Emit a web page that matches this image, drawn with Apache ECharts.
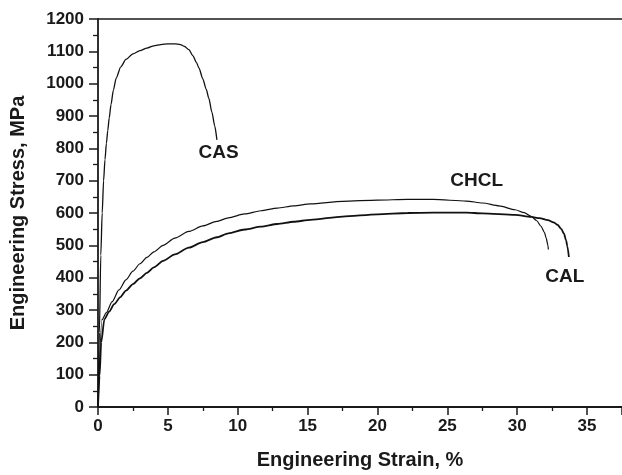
<!DOCTYPE html>
<html>
<head>
<meta charset="utf-8">
<script src="https://cdn.jsdelivr.net/npm/echarts@6/dist/echarts.min.js"></script>
<style>html,body{margin:0;padding:0;background:#fff}#c{width:622px;height:475px}</style>
</head>
<body>
<div id="c"></div>
<script>
// Strain (%) / Stress (MPa)
var casStrain = [0, 0.1, 0.2, 0.3, 0.4, 0.5, 0.6, 0.7, 0.8, 0.93, 1.1, 1.3, 1.63, 2.0, 2.5, 3.0, 3.5, 4.0, 4.5, 5.0, 5.5, 5.9, 6.2, 6.5, 6.8, 7.05, 7.23, 7.5, 7.75, 7.93, 8.15, 8.35, 8.51];
var casStress = [0, 230, 470, 600, 700, 765, 815, 855, 893, 935, 980, 1017, 1052, 1075, 1092, 1102, 1110, 1117, 1121, 1123, 1123, 1121, 1115, 1105, 1086, 1065, 1048, 1015, 982, 955, 912, 870, 826];

var chclStrain = [0, 0.28, 0.6, 1.0, 1.5, 2.0, 2.5, 3.0, 3.5, 4.0, 4.66, 5.5, 6.5, 7.5, 8.5, 9.33, 10.5, 11.66, 12.83, 14.0, 15.2, 17.5, 20.0, 22.16, 24.0, 26.36, 27.52, 28.7, 29.85, 30.5, 31.0, 31.4, 31.7, 31.95, 32.07, 32.2, 32.23];
var chclStress = [0, 270, 292, 325, 362, 393, 420, 443, 463, 480, 500, 522, 543, 560, 574, 585, 597, 607, 615, 622, 628, 636, 640, 642, 642, 637, 631, 622, 610, 601, 590, 576, 559, 540, 523, 500, 487];

var calStrain = [0, 0.11, 0.23, 0.46, 0.8, 1.16, 1.6, 2.0, 2.5, 3.0, 3.5, 4.0, 4.66, 5.5, 6.5, 7.5, 8.5, 9.33, 10.5, 11.66, 12.83, 14.0, 15.2, 17.5, 20.0, 22.16, 24.0, 26.36, 27.52, 29.85, 31.0, 31.6, 32.2, 32.6, 32.9, 33.15, 33.35, 33.5, 33.59, 33.7];
var calStress = [0, 96, 200, 272, 295, 318, 340, 360, 380, 398, 415, 432, 452, 472, 493, 510, 525, 537, 549, 558, 566, 573, 579, 589, 596, 600, 601, 601, 599, 594, 588, 584, 578, 571, 563, 551, 536, 515, 497, 464];

var xTicks = [0, 5, 10, 15, 20, 25, 30, 35];
var yTicks = [0, 100, 200, 300, 400, 500, 600, 700, 800, 900, 1000, 1100, 1200];

var labelNames = ['CAS', 'CHCL', 'CAL'];
var labelAt = [[8.63, 785], [27.1, 700], [33.4, 403]];

function pairs(xs, ys) { return xs.map(function (x, i) { return [x, ys[i]]; }); }

var FONT = '"Liberation Sans", Arial, sans-serif';
var AX = '#1a1a1a';
var TXT = '#1a1a1a';

var chart = echarts.init(document.getElementById('c'), null, { renderer: 'canvas' });

function lineSeries(name, data, w, labelIdx) {
  return {
    name: name, type: 'line', data: data, showSymbol: false,
    smooth: 0.25, smoothMonotone: 'x',
    lineStyle: { color: '#111', width: w }, animation: false,
    markPoint: {
      symbol: 'circle', symbolSize: 0,
      label: { show: true, formatter: labelNames[labelIdx], color: TXT, fontFamily: FONT, fontWeight: 'bold', fontSize: 19, position: 'inside' },
      data: [{ coord: labelAt[labelIdx] }]
    }
  };
}

chart.setOption({
  backgroundColor: '#fff',
  animation: false,
  grid: { left: 97, right: -10.7, top: 19, bottom: 67, containLabel: false },
  xAxis: [{
    type: 'value', min: xTicks[0], max: 37.5, interval: 5,
    name: 'Engineering Strain, %', nameLocation: 'middle', nameGap: 43,
    nameTextStyle: { fontFamily: FONT, fontWeight: 'bold', fontSize: 20, color: TXT },
    axisLine: { show: true, onZero: false, lineStyle: { color: AX, width: 1.8 } },
    axisTick: { show: true, inside: false, length: 8, lineStyle: { color: AX, width: 1.5 } },
    minorTick: { show: true, splitNumber: 2, length: 4, lineStyle: { color: AX, width: 1.3 } },
    axisLabel: { fontFamily: FONT, fontWeight: 'bold', fontSize: 17, color: TXT, margin: 11, showMaxLabel: false,
      formatter: function (v) { return xTicks.indexOf(v) >= 0 ? String(v) : ''; } },
    splitLine: { show: false }
  }, {
    type: 'value', position: 'top', min: 0, max: 37.5,
    axisLine: { show: true, onZero: false, lineStyle: { color: AX, width: 1.5 } },
    axisTick: { show: false }, axisLabel: { show: false }, splitLine: { show: false }
  }],
  yAxis: {
    type: 'value', min: yTicks[0], max: yTicks[yTicks.length - 1], interval: 100,
    name: 'Engineering Stress, MPa', nameLocation: 'middle', nameGap: 70,
    nameTextStyle: { fontFamily: FONT, fontWeight: 'bold', fontSize: 20, color: TXT },
    axisLine: { show: true, onZero: false, lineStyle: { color: AX, width: 1.8 } },
    axisTick: { show: true, inside: false, length: 9, lineStyle: { color: AX, width: 1.5 } },
    minorTick: { show: true, splitNumber: 2, length: 5, lineStyle: { color: AX, width: 1.3 } },
    axisLabel: { fontFamily: FONT, fontWeight: 'bold', fontSize: 17, color: TXT, margin: 14,
      formatter: function (v) { return String(v); } },
    splitLine: { show: false }
  },
  series: [
    lineSeries('CAS', pairs(casStrain, casStress), 1.3, 0),
    lineSeries('CHCL', pairs(chclStrain, chclStress), 1.2, 1),
    lineSeries('CAL', pairs(calStrain, calStress), 1.8, 2)
  ]
});
</script>
</body>
</html>
